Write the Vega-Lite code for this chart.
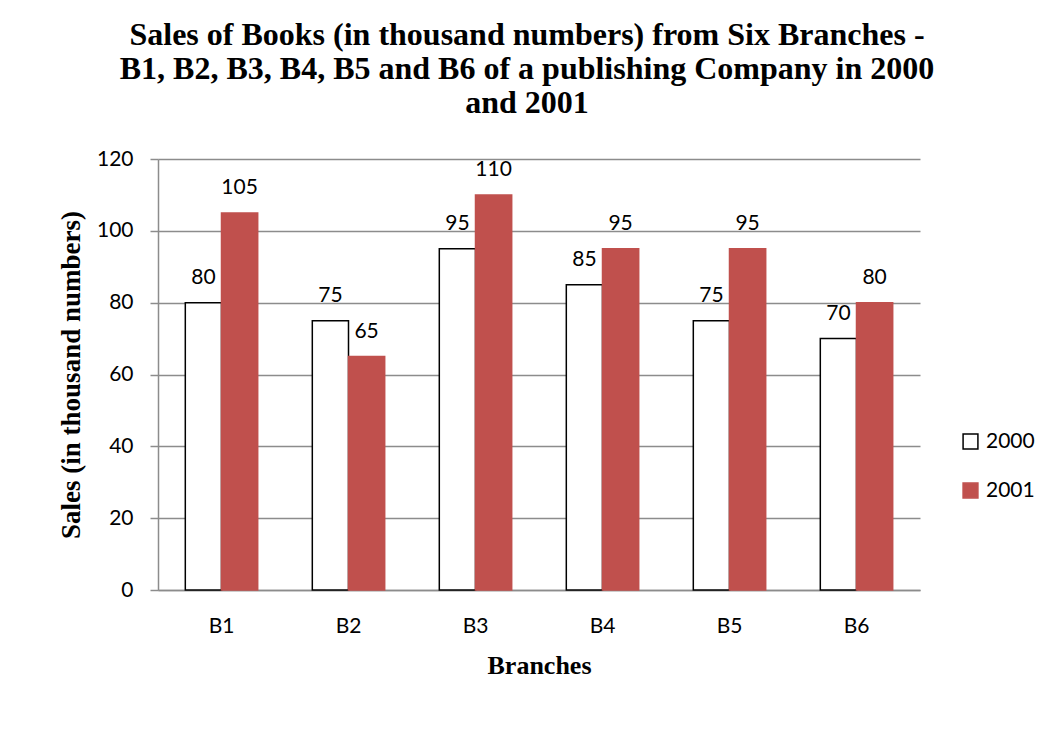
{
  "$schema": "https://vega.github.io/schema/vega-lite/v6.json",
  "width": 762,
  "height": 431,
  "autosize": "none",
  "padding": {"left": 158, "top": 159, "right": 130, "bottom": 140},
  "background": "white",
  "config": {"view": {"stroke": null}},
  "title": {
    "text": ["Sales of Books (in thousand numbers) from Six Branches -", "B1, B2, B3, B4, B5 and B6 of a publishing Company in 2000", "and 2001"],
    "font": "Liberation Serif",
    "fontSize": 32,
    "fontWeight": "bold",
    "color": "black",
    "lineHeight": 34,
    "anchor": "middle",
    "frame": "group",
    "dx": -12,
    "offset": 28
  },
  "data": {
    "values": [
      {"branch": "B1", "year": "2000", "sales": 80},
      {"branch": "B1", "year": "2001", "sales": 105},
      {"branch": "B2", "year": "2000", "sales": 75},
      {"branch": "B2", "year": "2001", "sales": 65},
      {"branch": "B3", "year": "2000", "sales": 95},
      {"branch": "B3", "year": "2001", "sales": 110},
      {"branch": "B4", "year": "2000", "sales": 85},
      {"branch": "B4", "year": "2001", "sales": 95},
      {"branch": "B5", "year": "2000", "sales": 75},
      {"branch": "B5", "year": "2001", "sales": 95},
      {"branch": "B6", "year": "2000", "sales": 70},
      {"branch": "B6", "year": "2001", "sales": 80}
    ]
  },
  "encoding": {
    "x": {
      "field": "branch",
      "type": "nominal",
      "scale": {"paddingInner": 0.43, "paddingOuter": 0.215},
      "axis": {
        "title": "Branches",
        "titleFont": "Liberation Serif",
        "titleFontSize": 26,
        "titleFontWeight": "bold",
        "titleColor": "black",
        "titlePadding": 16,
        "labelFont": "Lato",
        "labelFontSize": 21,
        "labelColor": "black",
        "labelAngle": 0,
        "labelPadding": 25,
        "ticks": false,
        "domainColor": "#8c8c8c",
        "domainWidth": 1.5
      }
    },
    "xOffset": {"field": "year", "type": "nominal", "scale": {"paddingInner": 0, "paddingOuter": 0}},
    "y": {
      "field": "sales",
      "type": "quantitative",
      "scale": {"domain": [0, 120], "nice": false},
      "axis": {
        "values": [0, 20, 40, 60, 80, 100, 120],
        "title": "Sales (in thousand numbers)",
        "titleFont": "Liberation Serif",
        "titleFontSize": 27,
        "titleFontWeight": "bold",
        "titleColor": "black",
        "titlePadding": 11,
        "labelFont": "Lato",
        "labelFontSize": 21,
        "labelColor": "black",
        "labelPadding": 17,
        "tickColor": "#8c8c8c",
        "tickSize": 8,
        "tickWidth": 1.5,
        "domainColor": "#8c8c8c",
        "domainWidth": 1.5,
        "grid": true,
        "gridColor": "#8c8c8c",
        "gridWidth": 1.5
      }
    }
  },
  "layer": [
    {
      "mark": {"type": "bar", "strokeWidth": 1.5},
      "encoding": {
        "fill": {
          "field": "year",
          "type": "nominal",
          "scale": {"domain": ["2000", "2001"], "range": ["#ffffff", "#C0504D"]},
          "legend": {
            "title": null,
            "orient": "none",
            "legendX": 802,
            "legendY": 272,
            "symbolType": "square",
            "symbolSize": 220,
            "symbolStrokeWidth": 1.5,
            "labelFont": "Lato",
            "labelFontSize": 21,
            "labelColor": "black",
            "rowPadding": 27,
            "labelOffset": 5
          }
        },
        "stroke": {
          "field": "year",
          "type": "nominal",
          "scale": {"domain": ["2000", "2001"], "range": ["#000000", "#C0504D"]},
          "legend": null
        }
      }
    },
    {
      "mark": {"type": "text", "baseline": "bottom", "dy": -15, "font": "Lato", "fontSize": 21, "color": "black"},
      "encoding": {"text": {"field": "sales", "type": "quantitative"}}
    }
  ]
}
